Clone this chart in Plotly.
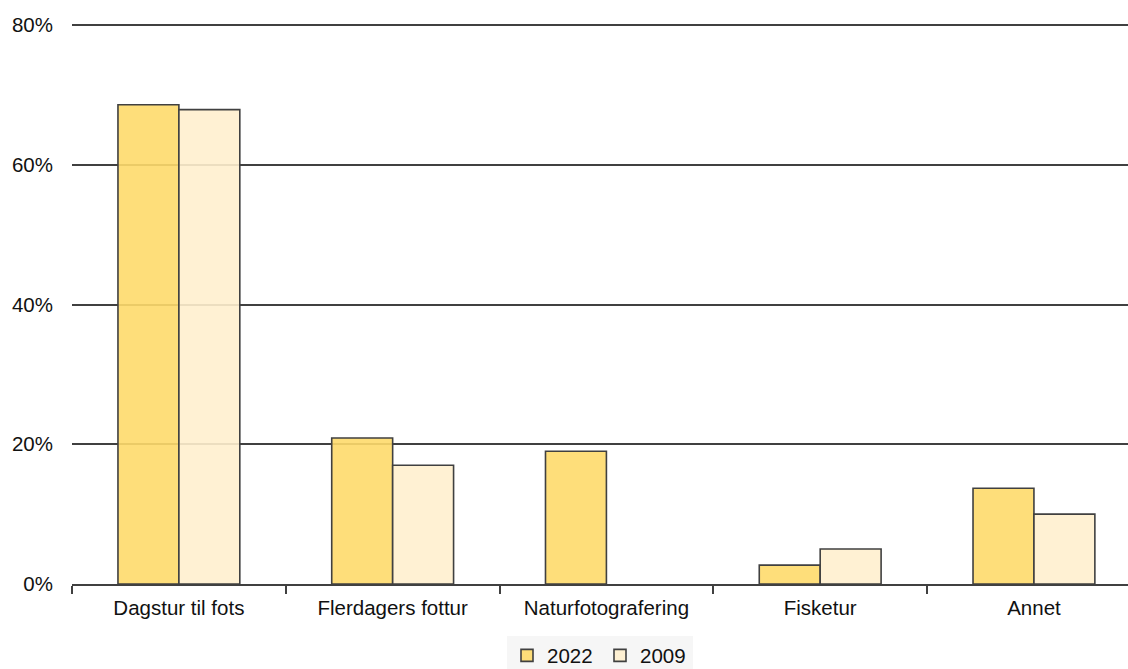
import plotly.graph_objects as go

categories = ["Dagstur til fots", "Flerdagers fottur", "Naturfotografering", "Fisketur", "Annet"]
values_2022 = [68.6, 20.9, 19.0, 2.7, 13.7]
values_2009 = [67.9, 17.0, None, 5.0, 10.0]
y_ticks = [0, 20, 40, 60, 80]
y_tick_labels = ["0%", "20%", "40%", "60%", "80%"]

line_col = "#404040"
fsize = 20.5
font = dict(family="Liberation Sans, Arial, sans-serif", size=fsize, color="#111111")

fig = go.Figure()
fig.add_trace(go.Bar(
    x=categories, y=values_2022, name="2022",
    marker=dict(color="rgba(254,218,108,0.9)", line=dict(color=line_col, width=1.6)),
))
fig.add_trace(go.Bar(
    x=categories, y=values_2009, name="2009",
    marker=dict(color="rgba(255,239,206,0.9)", line=dict(color=line_col, width=1.6)),
))

fig.update_layout(
    width=1128, height=669,
    margin=dict(l=72, r=0, t=24, b=85, autoexpand=False),
    paper_bgcolor="white", plot_bgcolor="white",
    font=font,
    barmode="group", bargap=0.43, bargroupgap=0,
    showlegend=True,
    legend=dict(
        orientation="h", x=0.5, xanchor="center", y=-0.092, yanchor="top",
        bgcolor="#f6f6f6", font=dict(size=fsize), itemwidth=30,
        entrywidth=48, traceorder="normal",
    ),
    xaxis=dict(
        type="category", range=[-0.5, 4.44], automargin=False,
        showgrid=False, showline=True, linecolor=line_col, linewidth=2,
        ticks="outside", tickson="boundaries", ticklen=8, tickwidth=2, tickcolor=line_col,
        tickfont=dict(size=fsize), ticklabelstandoff=4,
    ),
    yaxis=dict(
        range=[0, 80.15], tickvals=y_ticks, ticktext=y_tick_labels, automargin=False,
        showgrid=True, gridcolor=line_col, gridwidth=1.6,
        showline=False, zeroline=False, ticks="", ticklabelstandoff=18,
        tickfont=dict(size=fsize),
    ),
)

fig.write_html(
    "out.html",
    config={"displayModeBar": False},
    post_script="document.body.style.margin='0';document.body.style.overflow='hidden';",
)
